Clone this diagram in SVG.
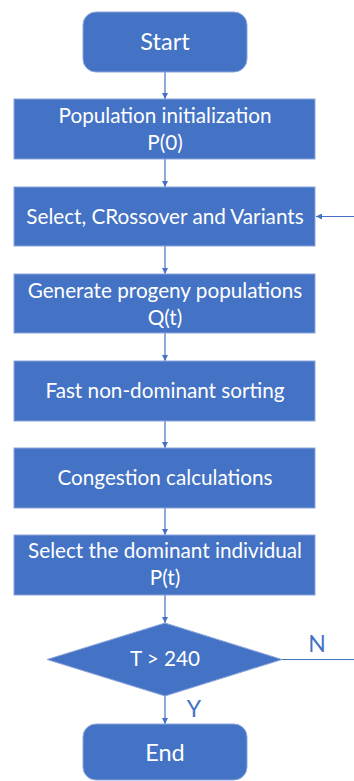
<svg xmlns="http://www.w3.org/2000/svg" width="354" height="781" viewBox="0 0 354 781">
<style>
.box{fill:#4472C4;stroke:#8DA6DC;stroke-width:1}
.t{font-family:Lato,"Noto Sans",sans-serif;font-size:20.7px;fill:#FFFFFF;text-anchor:middle}
.big{font-size:23.5px}
.c{stroke:#4472C4;stroke-width:1.2;fill:none}
.lbl{font-family:Lato,"Noto Sans",sans-serif;font-size:23px;fill:#4472C4}
</style>
<defs>
<marker id="ah" viewBox="0 0 10 10" refX="10" refY="5" markerWidth="6" markerHeight="6" markerUnits="userSpaceOnUse" orient="auto">
<path d="M0,0 L10,5 L0,10 z" fill="#4472C4"/>
</marker>
</defs>
<rect width="354" height="781" fill="#FFFFFF"/>
<g id="connectors">
<line class="c" x1="165" y1="72" x2="165" y2="99" marker-end="url(#ah)"/>
<line class="c" x1="165" y1="159" x2="165" y2="187" marker-end="url(#ah)"/>
<line class="c" x1="165" y1="246" x2="165" y2="274" marker-end="url(#ah)"/>
<line class="c" x1="165" y1="333" x2="165" y2="361" marker-end="url(#ah)"/>
<line class="c" x1="165" y1="421" x2="165" y2="448" marker-end="url(#ah)"/>
<line class="c" x1="165" y1="508" x2="165" y2="535" marker-end="url(#ah)"/>
<line class="c" x1="165" y1="595" x2="165" y2="623" marker-end="url(#ah)"/>
<line class="c" x1="165" y1="696" x2="165" y2="724" marker-end="url(#ah)"/>
<line class="c" x1="282" y1="659.5" x2="354" y2="659.5"/>
<line class="c" x1="354" y1="216.5" x2="316" y2="216.5" marker-end="url(#ah)"/>
<text class="lbl" x="317" y="651.5" text-anchor="middle">N</text>
<text class="lbl" x="194" y="716.5" text-anchor="middle">Y</text>
</g>
<g id="start">
<rect class="box" x="83" y="12" width="164" height="60" rx="13"/>
<text class="t big" x="165" y="49.5">Start</text>
</g>
<g id="init">
<rect class="box" x="14" y="99" width="301" height="60"/>
<text class="t" x="165" y="122.5">Population initialization</text>
<text class="t" x="165" y="149.5">P(0)</text>
</g>
<g id="select">
<rect class="box" x="14" y="187" width="301" height="59"/>
<text class="t" x="165" y="223.5">Select, CRossover and Variants</text>
</g>
<g id="generate">
<rect class="box" x="14" y="274" width="301" height="59"/>
<text class="t" x="165" y="297.5">Generate progeny populations</text>
<text class="t" x="165" y="324.5">Q(t)</text>
</g>
<g id="sorting">
<rect class="box" x="14" y="361" width="301" height="60"/>
<text class="t" x="165" y="397.5">Fast non-dominant sorting</text>
</g>
<g id="congestion">
<rect class="box" x="14" y="448" width="301" height="60"/>
<text class="t" x="165" y="484.5">Congestion calculations</text>
</g>
<g id="dominant">
<rect class="box" x="14" y="535" width="301" height="60"/>
<text class="t" x="165" y="557.5">Select the dominant individual</text>
<text class="t" x="165" y="584.5">P(t)</text>
</g>
<g id="decision">
<polygon class="box" points="165,623 282,659.5 165,696 47,659.5"/>
<text class="t" x="165" y="666">T &gt; 240</text>
</g>
<g id="end">
<rect class="box" x="83" y="724" width="164" height="56" rx="13"/>
<text class="t big" x="165" y="760.5">End</text>
</g>
</svg>
